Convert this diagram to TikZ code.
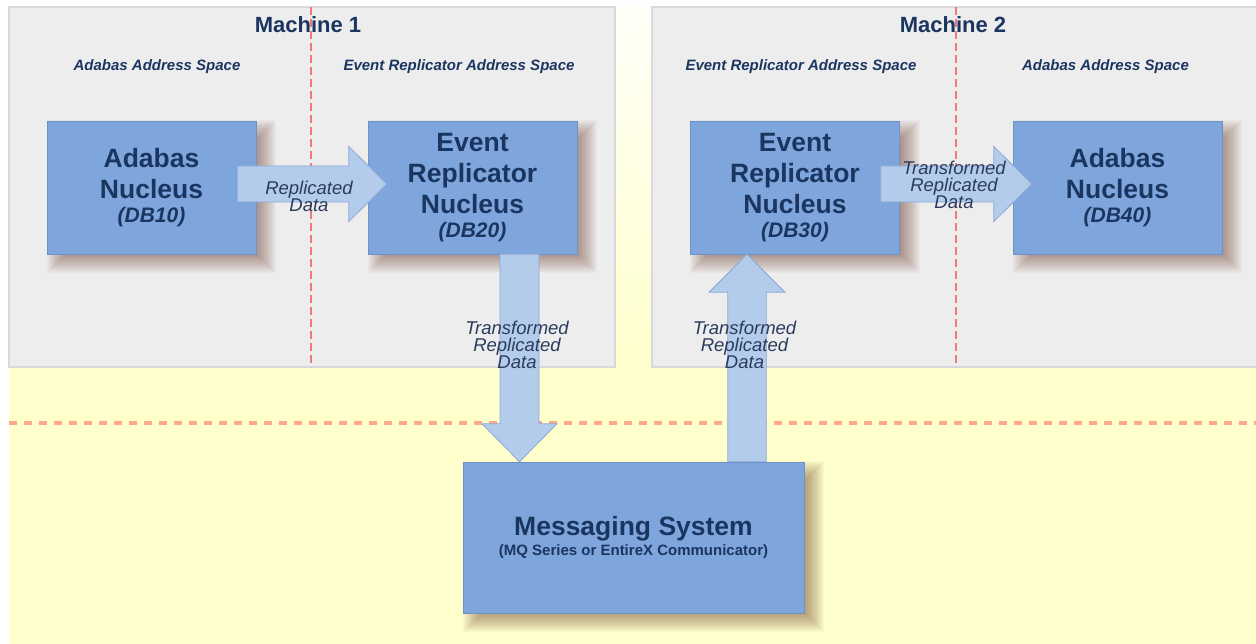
\documentclass[tikz,border=0pt]{standalone}
\usepackage{fontspec}
\setmainfont{Liberation Sans}
\usetikzlibrary{positioning}

\definecolor{boxfill}{HTML}{7EA6DC}
\definecolor{boxline}{HTML}{6C92C8}
\definecolor{flowfill}{HTML}{B3CCEC}
\definecolor{flowline}{HTML}{8CA8D4}
\definecolor{titletext}{HTML}{1B3561}
\definecolor{labeltext}{HTML}{2B3B5E}
\definecolor{machinefill}{HTML}{EDEDED}
\definecolor{machineline}{HTML}{D8D8DE}
\definecolor{bgyellow}{HTML}{FFFFCC}
\definecolor{splitred}{HTML}{F07A7A}
\definecolor{splitorange}{HTML}{FFA88C}
\definecolor{shadowcol}{HTML}{70402C}

\pgfdeclarelayer{back}
\pgfdeclarelayer{shade}
\pgfsetlayers{back,shade,main}

\newcommand{\tightskip}{\lineskiplimit-20pt\relax}
\tikzset{
	nucleus/.style      = {draw=boxline, fill=boxfill, rectangle, minimum width=209pt,
		minimum height=133pt, inner sep=0pt, align=center, text=titletext,
		font=\fontsize{26.5}{31}\selectfont\bfseries},
	msgbox/.style       = {draw=boxline, fill=boxfill, rectangle, minimum width=341pt,
		minimum height=151pt, inner sep=0pt, align=center, text=titletext,
		font=\fontsize{26.5}{20}\selectfont\bfseries},
	flow/.style         = {draw=flowline, fill=flowfill, line width=0.8pt, line join=miter},
	flowlabel/.style    = {align=center, inner sep=0pt, text=labeltext,
		font=\fontsize{18.5}{17}\selectfont\itshape\tightskip},
	machinelabel/.style = {anchor=base, text=titletext, font=\fontsize{22}{22}\selectfont\bfseries},
	spacelabel/.style   = {anchor=base, text=titletext, font=\fontsize{15}{15}\selectfont\bfseries\itshape},
	splitline/.style    = {draw=splitred, line width=2pt, dash pattern=on 8pt off 4pt},
	tierline/.style     = {draw=splitorange, line width=3.5pt, dash pattern=on 8pt off 7pt}
}
\newcommand{\boxshadow}[1]{%
	\foreach \i in {0,...,19}
		\fill[shadowcol, opacity=0.033] ([shift={(\i,\i-1)}]#1.north west)
			rectangle ([shift={(20-\i,19-\i)}]#1.south east);}
\newcommand{\dbname}[1]{\\[-7pt]{\fontsize{21}{24}\selectfont\itshape (#1)}}

\begin{document}
\begin{tikzpicture}[x=1pt, y=-1pt]

	\useasboundingbox (0,0) rectangle (1256,644);

	% background: yellow area and the two machines
	\begin{pgfonlayer}{back}
		\fill[white] (0,0) rectangle (1256,644);
		\fill[bgyellow] (9,7) rectangle (1256,644);
		\shade[top color=white!85!bgyellow, bottom color=bgyellow] (615,7) rectangle (652,367);
		\draw[fill=machinefill, draw=machineline, line width=1.5pt] (9,7) rectangle (615,367);
		\draw[fill=machinefill, draw=machineline, line width=1.5pt] (652,7) rectangle (1260,367);
		\draw[splitline] (311,7) -- (311,367);
		\draw[splitline] (956,7) -- (956,367);
		\draw[tierline] (9,423) -- (1256,423);
	\end{pgfonlayer}

	\draw
	node at (151.5,187.5) [nucleus] (db10) {Adabas\\Nucleus\dbname{DB10}}
	node at (472.5,187.5) [nucleus] (db20) {Event\\Replicator\\Nucleus\dbname{DB20}}
	node at (795,187.5)   [nucleus] (db30) {Event\\Replicator\\Nucleus\dbname{DB30}}
	node at (1117.5,187.5)[nucleus] (db40) {Adabas\\Nucleus\dbname{DB40}}
	node at (633.5,537.5) [msgbox]  (msg)  {Messaging System\\{\fontsize{15}{15}\selectfont (MQ Series or EntireX Communicator)}};

	\begin{pgfonlayer}{shade}
		\foreach \b in {db10,db20,db30,db40,msg} {\boxshadow{\b}}
	\end{pgfonlayer}

	\coordinate (r1a) at ([xshift=-19pt,yshift=3.5pt]db10.east);
	\coordinate (r1b) at ([xshift=19pt,yshift=3.5pt]db20.west);
	\coordinate (r2a) at ([xshift=-19pt,yshift=3.5pt]db30.east);
	\coordinate (r2b) at ([xshift=19pt,yshift=3.5pt]db40.west);
	\coordinate (d1a) at ([xshift=47pt]db20.south);
	\coordinate (d1b) at (d1a |- msg.north);
	\coordinate (u1b) at ([xshift=-48pt]db30.south);
	\coordinate (u1a) at (u1b |- msg.north);

	\draw[flow] ([shift={(0,-18)}]r1a) -- ([shift={(-38,-18)}]r1b) -- ([shift={(-38,-37.5)}]r1b) -- (r1b)
		-- ([shift={(-38,37.5)}]r1b) -- ([shift={(-38,18)}]r1b) -- ([shift={(0,18)}]r1a) -- cycle;
	\draw[flow] ([shift={(0,-18)}]r2a) -- ([shift={(-38,-18)}]r2b) -- ([shift={(-38,-37.5)}]r2b) -- (r2b)
		-- ([shift={(-38,37.5)}]r2b) -- ([shift={(-38,18)}]r2b) -- ([shift={(0,18)}]r2a) -- cycle;
	\draw[flow] ([shift={(-19.5,0)}]d1a) -- ([shift={(-19.5,-38)}]d1b) -- ([shift={(-37.5,-38)}]d1b) -- (d1b)
		-- ([shift={(37.5,-38)}]d1b) -- ([shift={(19.5,-38)}]d1b) -- ([shift={(19.5,0)}]d1a) -- cycle;
	\draw[flow] ([shift={(-19.25,0)}]u1a) -- ([shift={(-19.25,38)}]u1b) -- ([shift={(-38,38)}]u1b) -- (u1b)
		-- ([shift={(38,38)}]u1b) -- ([shift={(19.25,38)}]u1b) -- ([shift={(19.25,0)}]u1a) -- cycle;

	\draw
	node at (308,33)    [machinelabel] (m1) {Machine 1}
	node at (953,33)    [machinelabel] (m2) {Machine 2}
	node at (157,71)    [spacelabel] (s1) {Adabas Address Space}
	node at (459,71)    [spacelabel] (s2) {Event Replicator Address Space}
	node at (801,71)    [spacelabel] (s3) {Event Replicator Address Space}
	node at (1105.5,71) [spacelabel] (s4) {Adabas Address Space}
	node at (309,196)   [flowlabel] (l1) {Replicated\\Data}
	node at (517,345)   [flowlabel] (l2) {Transformed\\Replicated\\Data}
	node at (744.5,345) [flowlabel] (l3) {Transformed\\Replicated\\Data}
	node at (954,185)   [flowlabel] (l4) {Transformed\\Replicated\\Data};

\end{tikzpicture}
\end{document}
